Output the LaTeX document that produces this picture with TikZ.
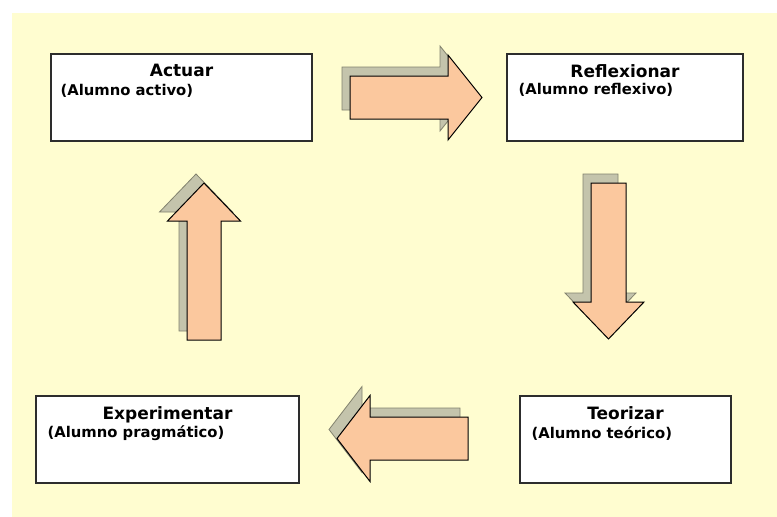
\documentclass[tikz,border=0pt]{standalone}
\usepackage{fontspec}
\setmainfont{DejaVu Sans}
\usetikzlibrary{positioning,calc}

\definecolor{fondo}{RGB}{255,253,208}
\definecolor{naranja}{RGB}{251,200,158}
\definecolor{sombra}{RGB}{196,196,172}
\definecolor{sombraborde}{RGB}{130,130,110}
\definecolor{borde}{RGB}{45,45,45}

\tikzset{
    caja/.style={draw=borde, line width=1.3pt, fill=white, minimum width=#1, minimum height=87pt, inner sep=0pt},
    titulo/.style={font=\fontsize{17}{19}\selectfont\bfseries, inner sep=0pt},
    subtitulo/.style={font=\fontsize{14.8}{16}\selectfont\bfseries, inner sep=0pt, anchor=west},
    flecha/.style={draw=black, line width=1pt, fill=naranja, line join=miter},
    flechasombra/.style={draw=sombraborde, line width=0.8pt, fill=sombra},
}

% block arrow pointing along +x: length, shaft half width, head half width, head length
\newcommand{\bloque}[4]{(0,-#2) -- ({#1-#4},-#2) -- ({#1-#4},-#3) -- (#1,0) -- ({#1-#4},#3) -- ({#1-#4},#2) -- (0,#2) -- cycle}

\begin{document}
\begin{tikzpicture}[x=1pt, y=-1pt]
        \useasboundingbox (0,0) rectangle (777,517);
        \fill[fondo] (12,13) rectangle (777,517);

        % Boxes.
        \node[caja=261pt] (actuar) at (181.5,97.5) {};
        \node[caja=236pt] (reflexionar) at (625,97.5) {};
        \node[caja=211pt] (teorizar) at (625.5,439.5) {};
        \node[caja=263pt] (experimentar) at (167.5,439.5) {};

        % Texts.
        \node[titulo, below=11pt of actuar.north] (tactuar) {Actuar};
        \node[subtitulo] (sactuar) at ($(actuar.north west)+(10,38)$) {(Alumno activo)};
        \node[titulo, below=11pt of reflexionar.north] (treflexionar) {Reflexionar};
        \node[subtitulo] (sreflexionar) at ($(reflexionar.north west)+(12,37)$) {(Alumno reflexivo)};
        \node[titulo, below=11pt of teorizar.north] (tteorizar) {Teorizar};
        \node[subtitulo] (steorizar) at ($(teorizar.north west)+(12,38)$) {(Alumno teórico)};
        \node[titulo, below=11pt of experimentar.north] (texperimentar) {Experimentar};
        \node[subtitulo] (sexperimentar) at ($(experimentar.north west)+(12,38)$) {(Alumno pragmático)};

        % Arrow tails.
        \coordinate (f1) at (350,97.5);
        \coordinate (f2) at (608.5,183);
        \coordinate (f3) at (468,438.5);
        \coordinate (f4) at (204,340);

        % Shadows.
        \foreach \c/\r/\l/\s/\h/\k in {f1/0/132/21.5/42.5/34, f2/-90/156/17.5/35.5/37, f3/180/131/21.5/43/33, f4/90/157/17/36.5/38}
            \path[flechasombra, shift={(\c)}, shift={(-8,-9)}, rotate=\r] \bloque{\l}{\s}{\h}{\k};

        % Arrows.
        \foreach \c/\r/\l/\s/\h/\k in {f1/0/132/21.5/42.5/34, f2/-90/156/17.5/35.5/37, f3/180/131/21.5/43/33, f4/90/157/17/36.5/38}
            \path[flecha, shift={(\c)}, rotate=\r] \bloque{\l}{\s}{\h}{\k};

    \end{tikzpicture}
\end{document}
